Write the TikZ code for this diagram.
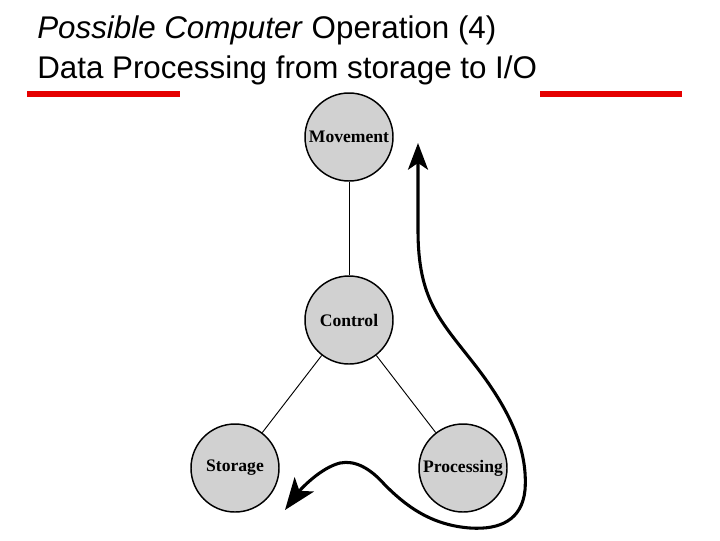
\documentclass[tikz,border=0pt]{standalone}
\usepackage{fontspec}
\setmainfont{Liberation Sans}
\newfontfamily\labelfont{Liberation Serif}
\usepackage{tikz}
\usetikzlibrary{arrows.meta}

\begin{document}
\begin{tikzpicture}[
  x=0.75pt, y=-0.75pt,
  title/.style={anchor=base west, inner sep=0pt, font=\fontsize{23.5}{26}\selectfont},
  func/.style={draw, circle, fill=black!18, line width=1.1pt, minimum size=66pt,
    inner sep=0pt, font=\labelfont\bfseries\fontsize{13.2}{15}\selectfont},
  link/.style={line width=0.7pt},
  flow/.style={arrows={Stealth[length=20pt,width=15pt,inset=5pt]-Stealth[length=24pt,width=18pt,inset=6pt]},
    line width=2.3pt},
  bar/.style={red!90!black, line width=4pt}
]
\useasboundingbox (0,0) rectangle (720,540);
\node[title] (t1) at (37,38) {\textit{Possible Computer} Operation (4)};
\node[title] (t2) at (37,78) {Data Processing from storage to I/O};
\draw[bar] (27,94) -- (180,94);
\draw[bar] (540,94) -- (682,94);
\node[func] (mov) at (349,137) {Movement};
\node[func] (ctl) at (349,320) {Control};
\node[func] (sto) at (235,468) {Storage};
\node[func] (pro) at (463,468) {Processing};
\draw[link] (mov) -- (ctl);
\draw[link] (ctl) -- (sto);
\draw[link] (ctl) -- (pro);
% data path from storage through processing up to movement
\coordinate (top) at (418,143);
\coordinate (low) at (285,510);
\draw[flow] (top) -- (418,230) .. controls (418,300) and (440,320) .. (475,365)
  .. controls (510,410) and (528,450) .. (525,490)
  .. controls (522,520) and (500,530) .. (470,528)
  .. controls (430,525) and (405,505) .. (385,485)
  .. controls (370,468) and (355,460) .. (340,463)
  .. controls (320,468) and (300,490) .. (low);
\end{tikzpicture}
\end{document}
